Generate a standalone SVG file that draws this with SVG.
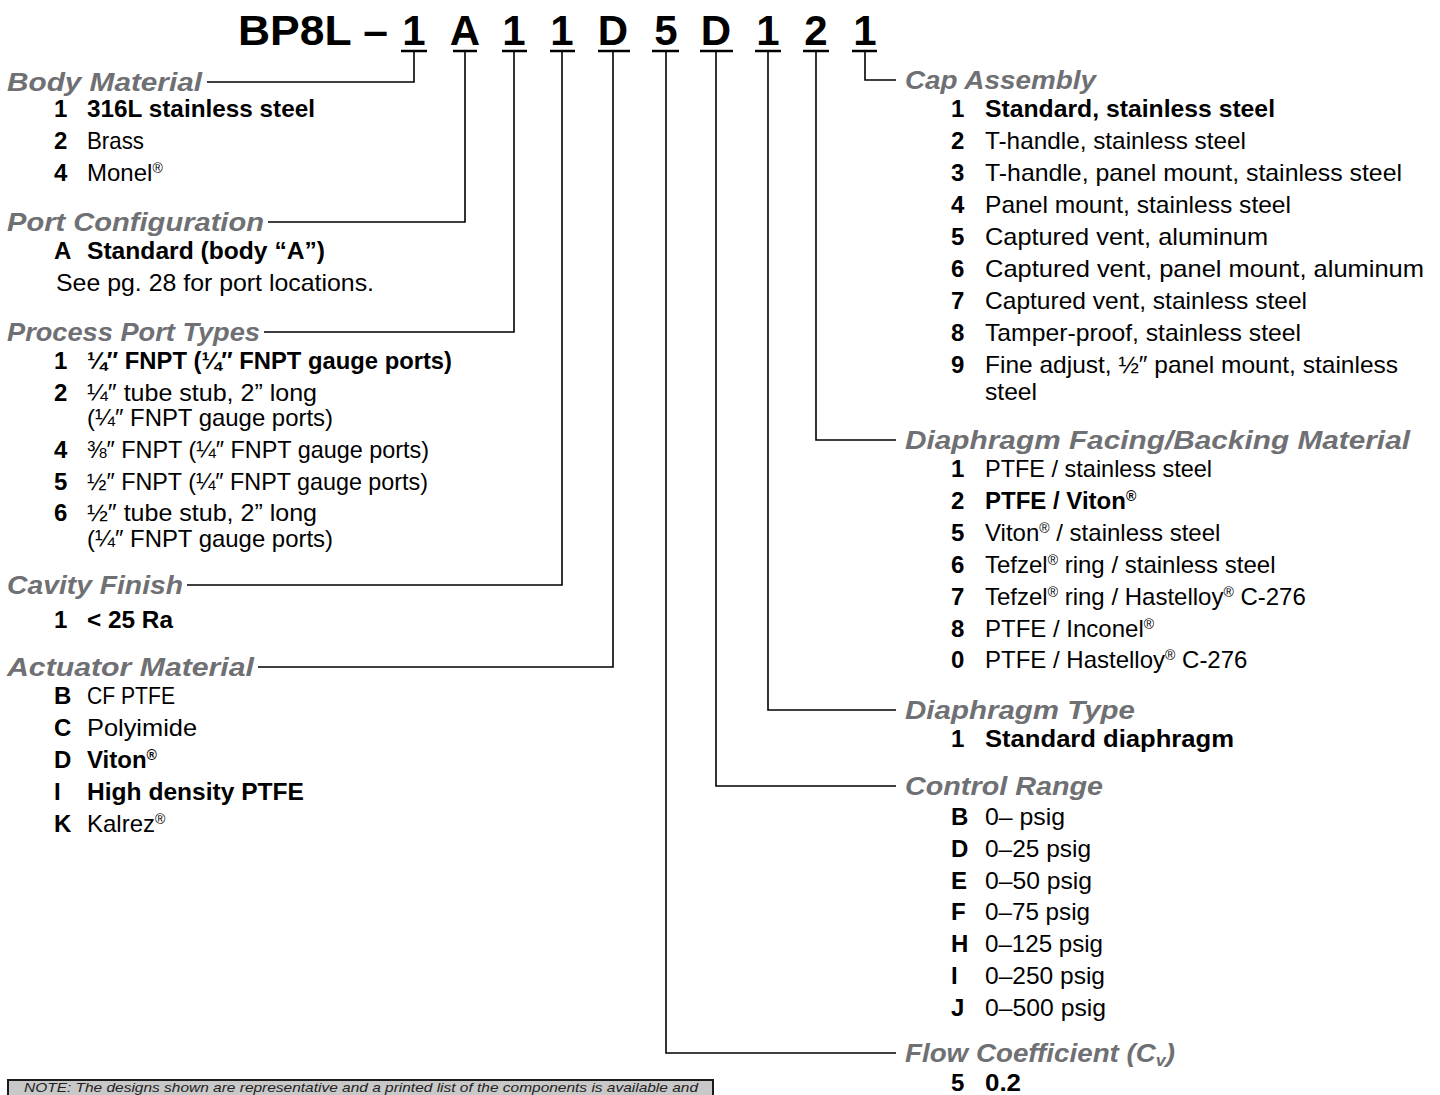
<svg xmlns="http://www.w3.org/2000/svg" width="1440" height="1095" viewBox="0 0 1440 1095">
<style>
text{font-family:"Liberation Sans",Arial,sans-serif;}
.ttl{font-size:42px;font-weight:bold;fill:#000;}
.h{font-size:25px;font-weight:bold;font-style:italic;fill:#6f7073;}
.n{font-size:24px;font-weight:bold;fill:#000;}
.t{font-size:24px;fill:#000;}
.b{font-weight:bold;}
.cn{fill:none;stroke:#000;stroke-width:1.6;}
.ul{stroke:#000;stroke-width:2.6;}
.note{font-size:13px;font-style:italic;fill:#222;}
</style>
<rect width="1440" height="1095" fill="#fff"/>

<g id="title">
<text class="ttl" x="238" y="45" textLength="150" lengthAdjust="spacingAndGlyphs">BP8L –</text>
<text class="ttl" text-anchor="middle" y="45"><tspan x="414">1</tspan><tspan x="465">A</tspan><tspan x="514">1</tspan><tspan x="562">1</tspan><tspan x="613">D</tspan><tspan x="666">5</tspan><tspan x="716">D</tspan><tspan x="768">1</tspan><tspan x="816">2</tspan><tspan x="865">1</tspan></text>
<path class="ul" d="M401,51H427M453,51H477M502,51H527M550,51H575M598,51H630M652,51H679M700,51H733M755,51H781M803,51H829M852,51H877"/>
</g>

<g id="connectors">
<path class="cn" d="M414,51V82H207"/>
<path class="cn" d="M465,51V222H268"/>
<path class="cn" d="M514,51V332H264"/>
<path class="cn" d="M562,51V585H187"/>
<path class="cn" d="M613,51V667H258"/>
<path class="cn" d="M865,51V80H896"/>
<path class="cn" d="M816,51V440H896"/>
<path class="cn" d="M768,51V710H896"/>
<path class="cn" d="M716,51V786H896"/>
<path class="cn" d="M666,51V1053H896"/>
</g>

<g id="body-material">
<text class="h" x="7" y="91" textLength="195" lengthAdjust="spacingAndGlyphs">Body Material</text>
<text class="n" x="54" y="117">1</text><text class="t b" x="87" y="117" textLength="228" lengthAdjust="spacingAndGlyphs">316L stainless steel</text>
<text class="n" x="54" y="149">2</text><text class="t" x="87" y="149" textLength="57" lengthAdjust="spacingAndGlyphs">Brass</text>
<text class="n" x="54" y="181">4</text><text class="t" x="87" y="181">Monel<tspan font-size="14" dy="-8">®</tspan></text>
</g>

<g id="port-configuration">
<text class="h" x="7" y="231" textLength="257" lengthAdjust="spacingAndGlyphs">Port Configuration</text>
<text class="n" x="54" y="259">A</text><text class="t b" x="87" y="259" textLength="238" lengthAdjust="spacingAndGlyphs">Standard (body “A”)</text>
<text class="t" x="56" y="291" textLength="318" lengthAdjust="spacingAndGlyphs">See pg. 28 for port locations.</text>
</g>

<g id="process-port-types">
<text class="h" x="7" y="341" textLength="253" lengthAdjust="spacingAndGlyphs">Process Port Types</text>
<text class="n" x="54" y="369">1</text><text class="t b" x="87" y="369" textLength="365" lengthAdjust="spacingAndGlyphs">¼″ FNPT (¼″ FNPT gauge ports)</text>
<text class="n" x="54" y="401">2</text><text class="t" x="87" y="401" textLength="230" lengthAdjust="spacingAndGlyphs">¼″ tube stub, 2” long</text>
<text class="t" x="87" y="426" textLength="246" lengthAdjust="spacingAndGlyphs">(¼″ FNPT gauge ports)</text>
<text class="n" x="54" y="458">4</text><text class="t" x="87" y="458" textLength="342" lengthAdjust="spacingAndGlyphs">⅜″ FNPT (¼″ FNPT gauge ports)</text>
<text class="n" x="54" y="490">5</text><text class="t" x="87" y="490" textLength="341" lengthAdjust="spacingAndGlyphs">½″ FNPT (¼″ FNPT gauge ports)</text>
<text class="n" x="54" y="521">6</text><text class="t" x="87" y="521" textLength="230" lengthAdjust="spacingAndGlyphs">½″ tube stub, 2” long</text>
<text class="t" x="87" y="547" textLength="246" lengthAdjust="spacingAndGlyphs">(¼″ FNPT gauge ports)</text>
</g>

<g id="cavity-finish">
<text class="h" x="7" y="594" textLength="176" lengthAdjust="spacingAndGlyphs">Cavity Finish</text>
<text class="n" x="54" y="628">1</text><text class="t b" x="87" y="628" textLength="86" lengthAdjust="spacingAndGlyphs">&lt; 25 Ra</text>
</g>

<g id="actuator-material">
<text class="h" x="7" y="676" textLength="247" lengthAdjust="spacingAndGlyphs">Actuator Material</text>
<text class="n" x="54" y="704">B</text><text class="t" x="87" y="704" textLength="88" lengthAdjust="spacingAndGlyphs">CF PTFE</text>
<text class="n" x="54" y="736">C</text><text class="t" x="87" y="736" textLength="110" lengthAdjust="spacingAndGlyphs">Polyimide</text>
<text class="n" x="54" y="768">D</text><text class="t b" x="87" y="768">Viton<tspan font-size="14" dy="-8">®</tspan></text>
<text class="n" x="54" y="800">I</text><text class="t b" x="87" y="800" textLength="217" lengthAdjust="spacingAndGlyphs">High density PTFE</text>
<text class="n" x="54" y="832">K</text><text class="t" x="87" y="832">Kalrez<tspan font-size="14" dy="-8">®</tspan></text>
</g>

<g id="cap-assembly">
<text class="h" x="905" y="89" textLength="191" lengthAdjust="spacingAndGlyphs">Cap Assembly</text>
<text class="n" x="951" y="117">1</text><text class="t b" x="985" y="117" textLength="290" lengthAdjust="spacingAndGlyphs">Standard, stainless steel</text>
<text class="n" x="951" y="149">2</text><text class="t" x="985" y="149" textLength="261" lengthAdjust="spacingAndGlyphs">T-handle, stainless steel</text>
<text class="n" x="951" y="181">3</text><text class="t" x="985" y="181" textLength="417" lengthAdjust="spacingAndGlyphs">T-handle, panel mount, stainless steel</text>
<text class="n" x="951" y="213">4</text><text class="t" x="985" y="213" textLength="306" lengthAdjust="spacingAndGlyphs">Panel mount, stainless steel</text>
<text class="n" x="951" y="245">5</text><text class="t" x="985" y="245" textLength="283" lengthAdjust="spacingAndGlyphs">Captured vent, aluminum</text>
<text class="n" x="951" y="277">6</text><text class="t" x="985" y="277" textLength="439" lengthAdjust="spacingAndGlyphs">Captured vent, panel mount, aluminum</text>
<text class="n" x="951" y="309">7</text><text class="t" x="985" y="309" textLength="322" lengthAdjust="spacingAndGlyphs">Captured vent, stainless steel</text>
<text class="n" x="951" y="341">8</text><text class="t" x="985" y="341" textLength="316" lengthAdjust="spacingAndGlyphs">Tamper-proof, stainless steel</text>
<text class="n" x="951" y="373">9</text><text class="t" x="985" y="373" textLength="413" lengthAdjust="spacingAndGlyphs">Fine adjust, ½″ panel mount, stainless</text>
<text class="t" x="985" y="400" textLength="52" lengthAdjust="spacingAndGlyphs">steel</text>
</g>

<g id="diaphragm-facing-backing">
<text class="h" x="905" y="449" textLength="505" lengthAdjust="spacingAndGlyphs">Diaphragm Facing/Backing Material</text>
<text class="n" x="951" y="477">1</text><text class="t" x="985" y="477" textLength="227" lengthAdjust="spacingAndGlyphs">PTFE / stainless steel</text>
<text class="n" x="951" y="509">2</text><text class="t b" x="985" y="509">PTFE / Viton<tspan font-size="14" dy="-8">®</tspan></text>
<text class="n" x="951" y="541">5</text><text class="t" x="985" y="541">Viton<tspan font-size="14" dy="-8">®</tspan><tspan dy="8"> / stainless steel</tspan></text>
<text class="n" x="951" y="573">6</text><text class="t" x="985" y="573">Tefzel<tspan font-size="14" dy="-8">®</tspan><tspan dy="8"> ring / stainless steel</tspan></text>
<text class="n" x="951" y="605">7</text><text class="t" x="985" y="605">Tefzel<tspan font-size="14" dy="-8">®</tspan><tspan dy="8"> ring / Hastelloy</tspan><tspan font-size="14" dy="-8">®</tspan><tspan dy="8"> C-276</tspan></text>
<text class="n" x="951" y="637">8</text><text class="t" x="985" y="637">PTFE / Inconel<tspan font-size="14" dy="-8">®</tspan></text>
<text class="n" x="951" y="668">0</text><text class="t" x="985" y="668">PTFE / Hastelloy<tspan font-size="14" dy="-8">®</tspan><tspan dy="8"> C-276</tspan></text>
</g>

<g id="diaphragm-type">
<text class="h" x="905" y="719" textLength="230" lengthAdjust="spacingAndGlyphs">Diaphragm Type</text>
<text class="n" x="951" y="747">1</text><text class="t b" x="985" y="747" textLength="249" lengthAdjust="spacingAndGlyphs">Standard diaphragm</text>
</g>

<g id="control-range">
<text class="h" x="905" y="795" textLength="198" lengthAdjust="spacingAndGlyphs">Control Range</text>
<text class="n" x="951" y="825">B</text><text class="t" x="985" y="825" textLength="80" lengthAdjust="spacingAndGlyphs">0– psig</text>
<text class="n" x="951" y="857">D</text><text class="t" x="985" y="857" textLength="106" lengthAdjust="spacingAndGlyphs">0–25 psig</text>
<text class="n" x="951" y="889">E</text><text class="t" x="985" y="889" textLength="107" lengthAdjust="spacingAndGlyphs">0–50 psig</text>
<text class="n" x="951" y="920">F</text><text class="t" x="985" y="920" textLength="105" lengthAdjust="spacingAndGlyphs">0–75 psig</text>
<text class="n" x="951" y="952">H</text><text class="t" x="985" y="952" textLength="118" lengthAdjust="spacingAndGlyphs">0–125 psig</text>
<text class="n" x="951" y="984">I</text><text class="t" x="985" y="984" textLength="120" lengthAdjust="spacingAndGlyphs">0–250 psig</text>
<text class="n" x="951" y="1016">J</text><text class="t" x="985" y="1016" textLength="121" lengthAdjust="spacingAndGlyphs">0–500 psig</text>
</g>

<g id="flow-coefficient">
<text class="h" x="905" y="1062" textLength="270" lengthAdjust="spacingAndGlyphs">Flow Coefficient (C<tspan font-size="16" dy="4">v</tspan><tspan dy="-4">)</tspan></text>
<text class="n" x="951" y="1091">5</text><text class="t b" x="985" y="1091" textLength="36" lengthAdjust="spacingAndGlyphs">0.2</text>
</g>

<g id="note">
<rect x="8" y="1080" width="705" height="30" fill="#c8c8c8" stroke="#1a1a1a" stroke-width="2"/>
<text class="note" x="24" y="1092" textLength="674" lengthAdjust="spacingAndGlyphs">NOTE: The designs shown are representative and a printed list of the components is available and</text>
</g>
</svg>
